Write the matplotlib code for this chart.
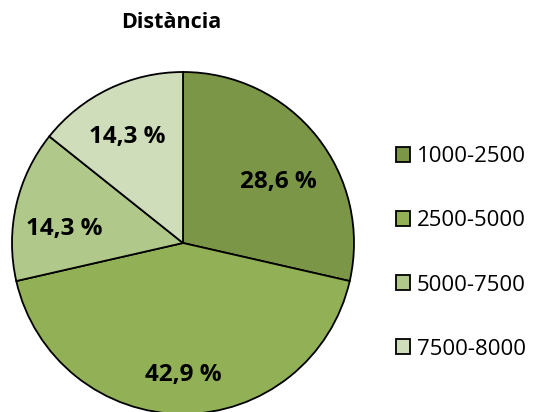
import numpy as np
import matplotlib.pyplot as plt

plt.rcParams['font.family'] = ['Open Sans', 'DejaVu Sans']

# Data
categories = ["1000-2500", "2500-5000", "5000-7500", "7500-8000"]
counts = [2, 3, 1, 1]
colors = ["#7A9646", "#92B156", "#B0C98A", "#D0DDBB"]

# label placement (distance from centre, angle tweak in degrees)
label_dist = [0.66, 0.77, 0.70, 0.70]
label_turn = [-6, 0, 6, 2]

W, H = 536, 412
fig = plt.figure(figsize=(W / 100, H / 100), dpi=100)

# pie axes: centre (183, 243) px, radius 171 px
cx, cy, r = 183, 243, 171
ax = fig.add_axes([(cx - r) / W, (H - cy - r) / H, 2 * r / W, 2 * r / H])

wedges, _ = ax.pie(counts, colors=colors, startangle=90, counterclock=False,
                   radius=1, wedgeprops=dict(edgecolor="black", linewidth=1.3))
ax.set_xlim(-1, 1)
ax.set_ylim(-1, 1)
ax.set_aspect("equal")
ax.axis("off")

total = sum(counts)
for w, n, d, t in zip(wedges, counts, label_dist, label_turn):
    ang = np.deg2rad((w.theta1 + w.theta2) / 2 + t)
    txt = f"{100 * n / total:.1f} %".replace(".", ",")
    ax.text(d * np.cos(ang), d * np.sin(ang), txt, ha="center", va="center",
            fontsize=17.5, fontweight="bold", color="black")

fig.text(171 / W, 1 - 22 / H, "Distància", ha="center", va="center",
         fontsize=15.5, fontweight="bold")

fig.legend(wedges, categories, loc="center left",
           bbox_to_anchor=(396 / W, 1 - 253 / H), frameon=False,
           fontsize=16, handlelength=0.65, handleheight=0.65,
           handletextpad=0.3, labelspacing=1.94, borderpad=0,
           borderaxespad=0)

fig.savefig("out.png", dpi=100)
